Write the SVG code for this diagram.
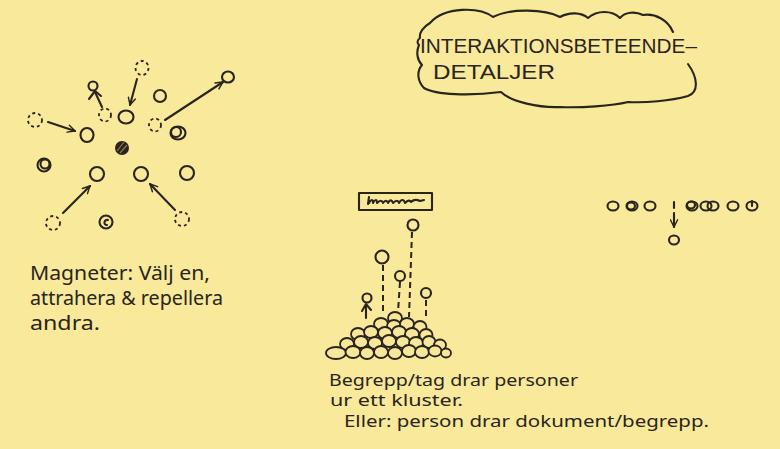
<svg xmlns="http://www.w3.org/2000/svg" width="780" height="449" viewBox="0 0 780 449">
<defs>
<style>
.ink{fill:none;stroke:#2a241c;stroke-width:2.1;stroke-linecap:round;stroke-linejoin:round}
.dash{fill:none;stroke:#2a241c;stroke-width:1.8;stroke-dasharray:3 3}
.dl{fill:none;stroke:#2a241c;stroke-width:2;stroke-dasharray:6 4}
.pile{fill:#f7e79a;stroke:#2a241c;stroke-width:1.8}
.hand{font-family:"Noto Sans","DejaVu Sans",sans-serif;fill:#2a241c}
.caps{font-family:"Liberation Sans","Noto Sans",sans-serif;fill:#2a241c}
</style>
<marker id="ah" viewBox="0 0 10 10" refX="9" refY="5" markerWidth="9" markerHeight="9" markerUnits="userSpaceOnUse" orient="auto">
<path d="M1,1 L9,5 L1,9" fill="none" stroke="#2a241c" stroke-width="1.6" stroke-linecap="round"/>
</marker>
</defs>
<rect width="780" height="449" fill="#f8e99b"/>

<g id="title">
<path class="ink" d="M673,32 C668,20 655,13 643,15 C635,11 625,12 620,18 C612,10 597,10 588,18 C581,12 569,12 560,17 C545,9 510,8 493,17 C480,7 445,6 430,23 C423,27 419,33 420,38 C417,40 417,43 419,45 C416,52 417,60 422,65 C416,72 418,82 424,88 C436,95 470,96 501,92 C511,102 540,108 560,107 C580,108 612,106 628,102 C645,103 670,101 688,96 C699,92 698,78 688,64"/>
<text class="caps" x="420" y="53" font-size="20" textLength="277" lengthAdjust="spacingAndGlyphs">INTERAKTIONSBETEENDE–</text>
<text class="caps" x="433" y="79" font-size="20" textLength="122" lengthAdjust="spacingAndGlyphs">DETALJER</text>
</g>

<g id="magnets">
<ellipse class="dash" cx="142" cy="68" rx="6.5" ry="7"/>
<ellipse class="dash" cx="105" cy="115" rx="6" ry="6.5"/>
<ellipse class="dash" cx="35" cy="120" rx="7" ry="7"/>
<ellipse class="dash" cx="155" cy="125" rx="6" ry="6.5"/>
<ellipse class="dash" cx="53" cy="223" rx="7" ry="7"/>
<ellipse class="dash" cx="182" cy="219" rx="7" ry="7"/>
<ellipse class="ink" cx="126" cy="117" rx="7.5" ry="6.5"/>
<ellipse class="ink" cx="160" cy="96" rx="6" ry="6"/>
<ellipse class="ink" cx="228" cy="77" rx="6" ry="5.5"/>
<ellipse class="ink" cx="178" cy="133" rx="7.5" ry="6.5"/>
<ellipse class="ink" cx="176" cy="132" rx="5" ry="5"/>
<ellipse class="ink" cx="87" cy="135" rx="6.5" ry="7"/>
<ellipse cx="122" cy="148" rx="7" ry="7" fill="#2a241c"/>
<path d="M117,151 L124,142 M120,153 L127,145" stroke="#8a7a55" stroke-width="1.2"/>
<ellipse class="ink" cx="44" cy="165" rx="6.5" ry="6.5"/>
<ellipse class="ink" cx="45" cy="164" rx="4.5" ry="4.5"/>
<ellipse class="ink" cx="97" cy="174" rx="7" ry="7"/>
<ellipse class="ink" cx="141" cy="174" rx="7" ry="7"/>
<ellipse class="ink" cx="187" cy="173" rx="7" ry="7"/>
<ellipse class="ink" cx="106" cy="222" rx="6.5" ry="6.5"/>
<path class="ink" d="M108,220 C104,219 103,225 107,225"/>
<circle class="ink" cx="93" cy="86" r="4.5"/>
<path class="ink" d="M89,99 L95,91 L101,96"/>
</g>

<g id="caption-left">
<text class="hand" x="30" y="280" font-size="19" textLength="180" lengthAdjust="spacingAndGlyphs">Magneter: Välj en,</text>
<text class="hand" x="30" y="305" font-size="19" textLength="193" lengthAdjust="spacingAndGlyphs">attrahera &amp; repellera</text>
<text class="hand" x="30" y="330" font-size="19" textLength="70" lengthAdjust="spacingAndGlyphs">andra.</text>
</g>

<g id="tag">
<rect class="ink" x="359" y="193" width="73" height="17"/>
<path class="ink" stroke-width="1.5" d="M368,204 L369,197 M369,203 C371,199 373,199 373,203 C375,199 377,199 377,203 C380,200 382,200 383,203 C385,200 387,200 388,203 C390,199 392,200 393,203 C396,200 398,200 399,203 C401,199 404,199 405,203 C408,200 410,200 411,202 C414,199 418,200 420,201 L424,200"/>
</g>

<g id="cluster">
<circle class="ink" cx="413" cy="225" r="5.5"/>
<circle class="ink" cx="382" cy="257" r="6.5"/>
<circle class="ink" cx="400" cy="276" r="5"/>
<circle class="ink" cx="426" cy="293" r="5"/>
<circle class="ink" cx="367" cy="298" r="4.5"/>
<path class="ink" d="M362,311 L366,304 L371,310"/>
<g id="pile">
<ellipse class="pile" cx="395" cy="318" rx="7" ry="6"/>
<ellipse class="pile" cx="381" cy="324" rx="7" ry="6"/>
<ellipse class="pile" cx="394" cy="326" rx="7" ry="6"/>
<ellipse class="pile" cx="407" cy="324" rx="7" ry="6"/>
<ellipse class="pile" cx="420" cy="327" rx="6.5" ry="6"/>
<ellipse class="pile" cx="358" cy="334" rx="7" ry="6"/>
<ellipse class="pile" cx="371" cy="332" rx="7" ry="6"/>
<ellipse class="pile" cx="385" cy="333" rx="7" ry="6"/>
<ellipse class="pile" cx="399" cy="332" rx="7" ry="6"/>
<ellipse class="pile" cx="412" cy="334" rx="7" ry="6"/>
<ellipse class="pile" cx="426" cy="335" rx="6.5" ry="6"/>
<ellipse class="pile" cx="347" cy="344" rx="7" ry="6"/>
<ellipse class="pile" cx="361" cy="342" rx="7" ry="6"/>
<ellipse class="pile" cx="375" cy="343" rx="7" ry="6"/>
<ellipse class="pile" cx="389" cy="341" rx="7" ry="6"/>
<ellipse class="pile" cx="403" cy="342" rx="7" ry="6"/>
<ellipse class="pile" cx="416" cy="343" rx="7" ry="6"/>
<ellipse class="pile" cx="429" cy="342" rx="6.5" ry="6"/>
<ellipse class="pile" cx="440" cy="345" rx="6" ry="5.5"/>
<ellipse class="pile" cx="336" cy="353" rx="10" ry="6"/>
<ellipse class="pile" cx="353" cy="352" rx="7.5" ry="6"/>
<ellipse class="pile" cx="367" cy="353" rx="7" ry="6"/>
<ellipse class="pile" cx="381" cy="352" rx="7" ry="6"/>
<ellipse class="pile" cx="395" cy="353" rx="7" ry="6"/>
<ellipse class="pile" cx="409" cy="351" rx="7" ry="6"/>
<ellipse class="pile" cx="422" cy="352" rx="7" ry="6"/>
<ellipse class="pile" cx="435" cy="351" rx="6.5" ry="5.5"/>
<ellipse class="pile" cx="446" cy="353" rx="5" ry="4.5"/>
</g>
</g>

<g id="caption-middle">
<text class="hand" x="329" y="386" font-size="16" textLength="249" lengthAdjust="spacingAndGlyphs">Begrepp/tag drar personer</text>
<text class="hand" x="330" y="406" font-size="16" textLength="133" lengthAdjust="spacingAndGlyphs">ur ett kluster.</text>
<text class="hand" x="344" y="427" font-size="17" textLength="365" lengthAdjust="spacingAndGlyphs">Eller: person drar dokument/begrepp.</text>
</g>

<g id="row">
<ellipse class="ink" cx="613" cy="206" rx="5.5" ry="4.5"/>
<ellipse class="ink" cx="632" cy="206" rx="5.5" ry="4.5"/>
<ellipse class="ink" cx="631" cy="206" rx="4" ry="3.5"/>
<ellipse class="ink" cx="650" cy="206" rx="5.5" ry="4.5"/>
<ellipse class="ink" cx="692" cy="206" rx="5.5" ry="4.5"/>
<ellipse class="ink" cx="691" cy="205" rx="4" ry="3.5"/>
<ellipse class="ink" cx="706" cy="206" rx="5.5" ry="4.5"/>
<ellipse class="ink" cx="713" cy="206" rx="5.5" ry="4.5"/>
<ellipse class="ink" cx="733" cy="206" rx="5.5" ry="4.5"/>
<ellipse class="ink" cx="752" cy="206" rx="5.5" ry="4.5"/>
<path class="ink" d="M752,206 L752,201"/>
<ellipse class="ink" cx="674" cy="240" rx="5" ry="4.5"/>
</g>

<g id="connectors">
<path class="ink" marker-end="url(#ah)" d="M137,79 L130,105"/>
<path class="ink" marker-end="url(#ah)" d="M48,122 L75,131"/>
<path class="ink" marker-end="url(#ah)" d="M165,120 L223,82"/>
<path class="ink" marker-end="url(#ah)" d="M63,213 L90,186"/>
<path class="ink" marker-end="url(#ah)" d="M175,210 L150,184"/>
<path class="ink" d="M102,107 L95,92"/>
<path class="dl" d="M412,232 L409,317"/>
<path class="dl" d="M383,265 L383,312"/>
<path class="dl" d="M400,282 L398,312"/>
<path class="dl" d="M426,300 L426,319"/>
<path class="ink" d="M366,318 L366,305"/>
<path class="ink" d="M674,202 L674,208"/>
<path class="ink" marker-end="url(#ah)" d="M674,213 L674,227"/>
</g>
</svg>
